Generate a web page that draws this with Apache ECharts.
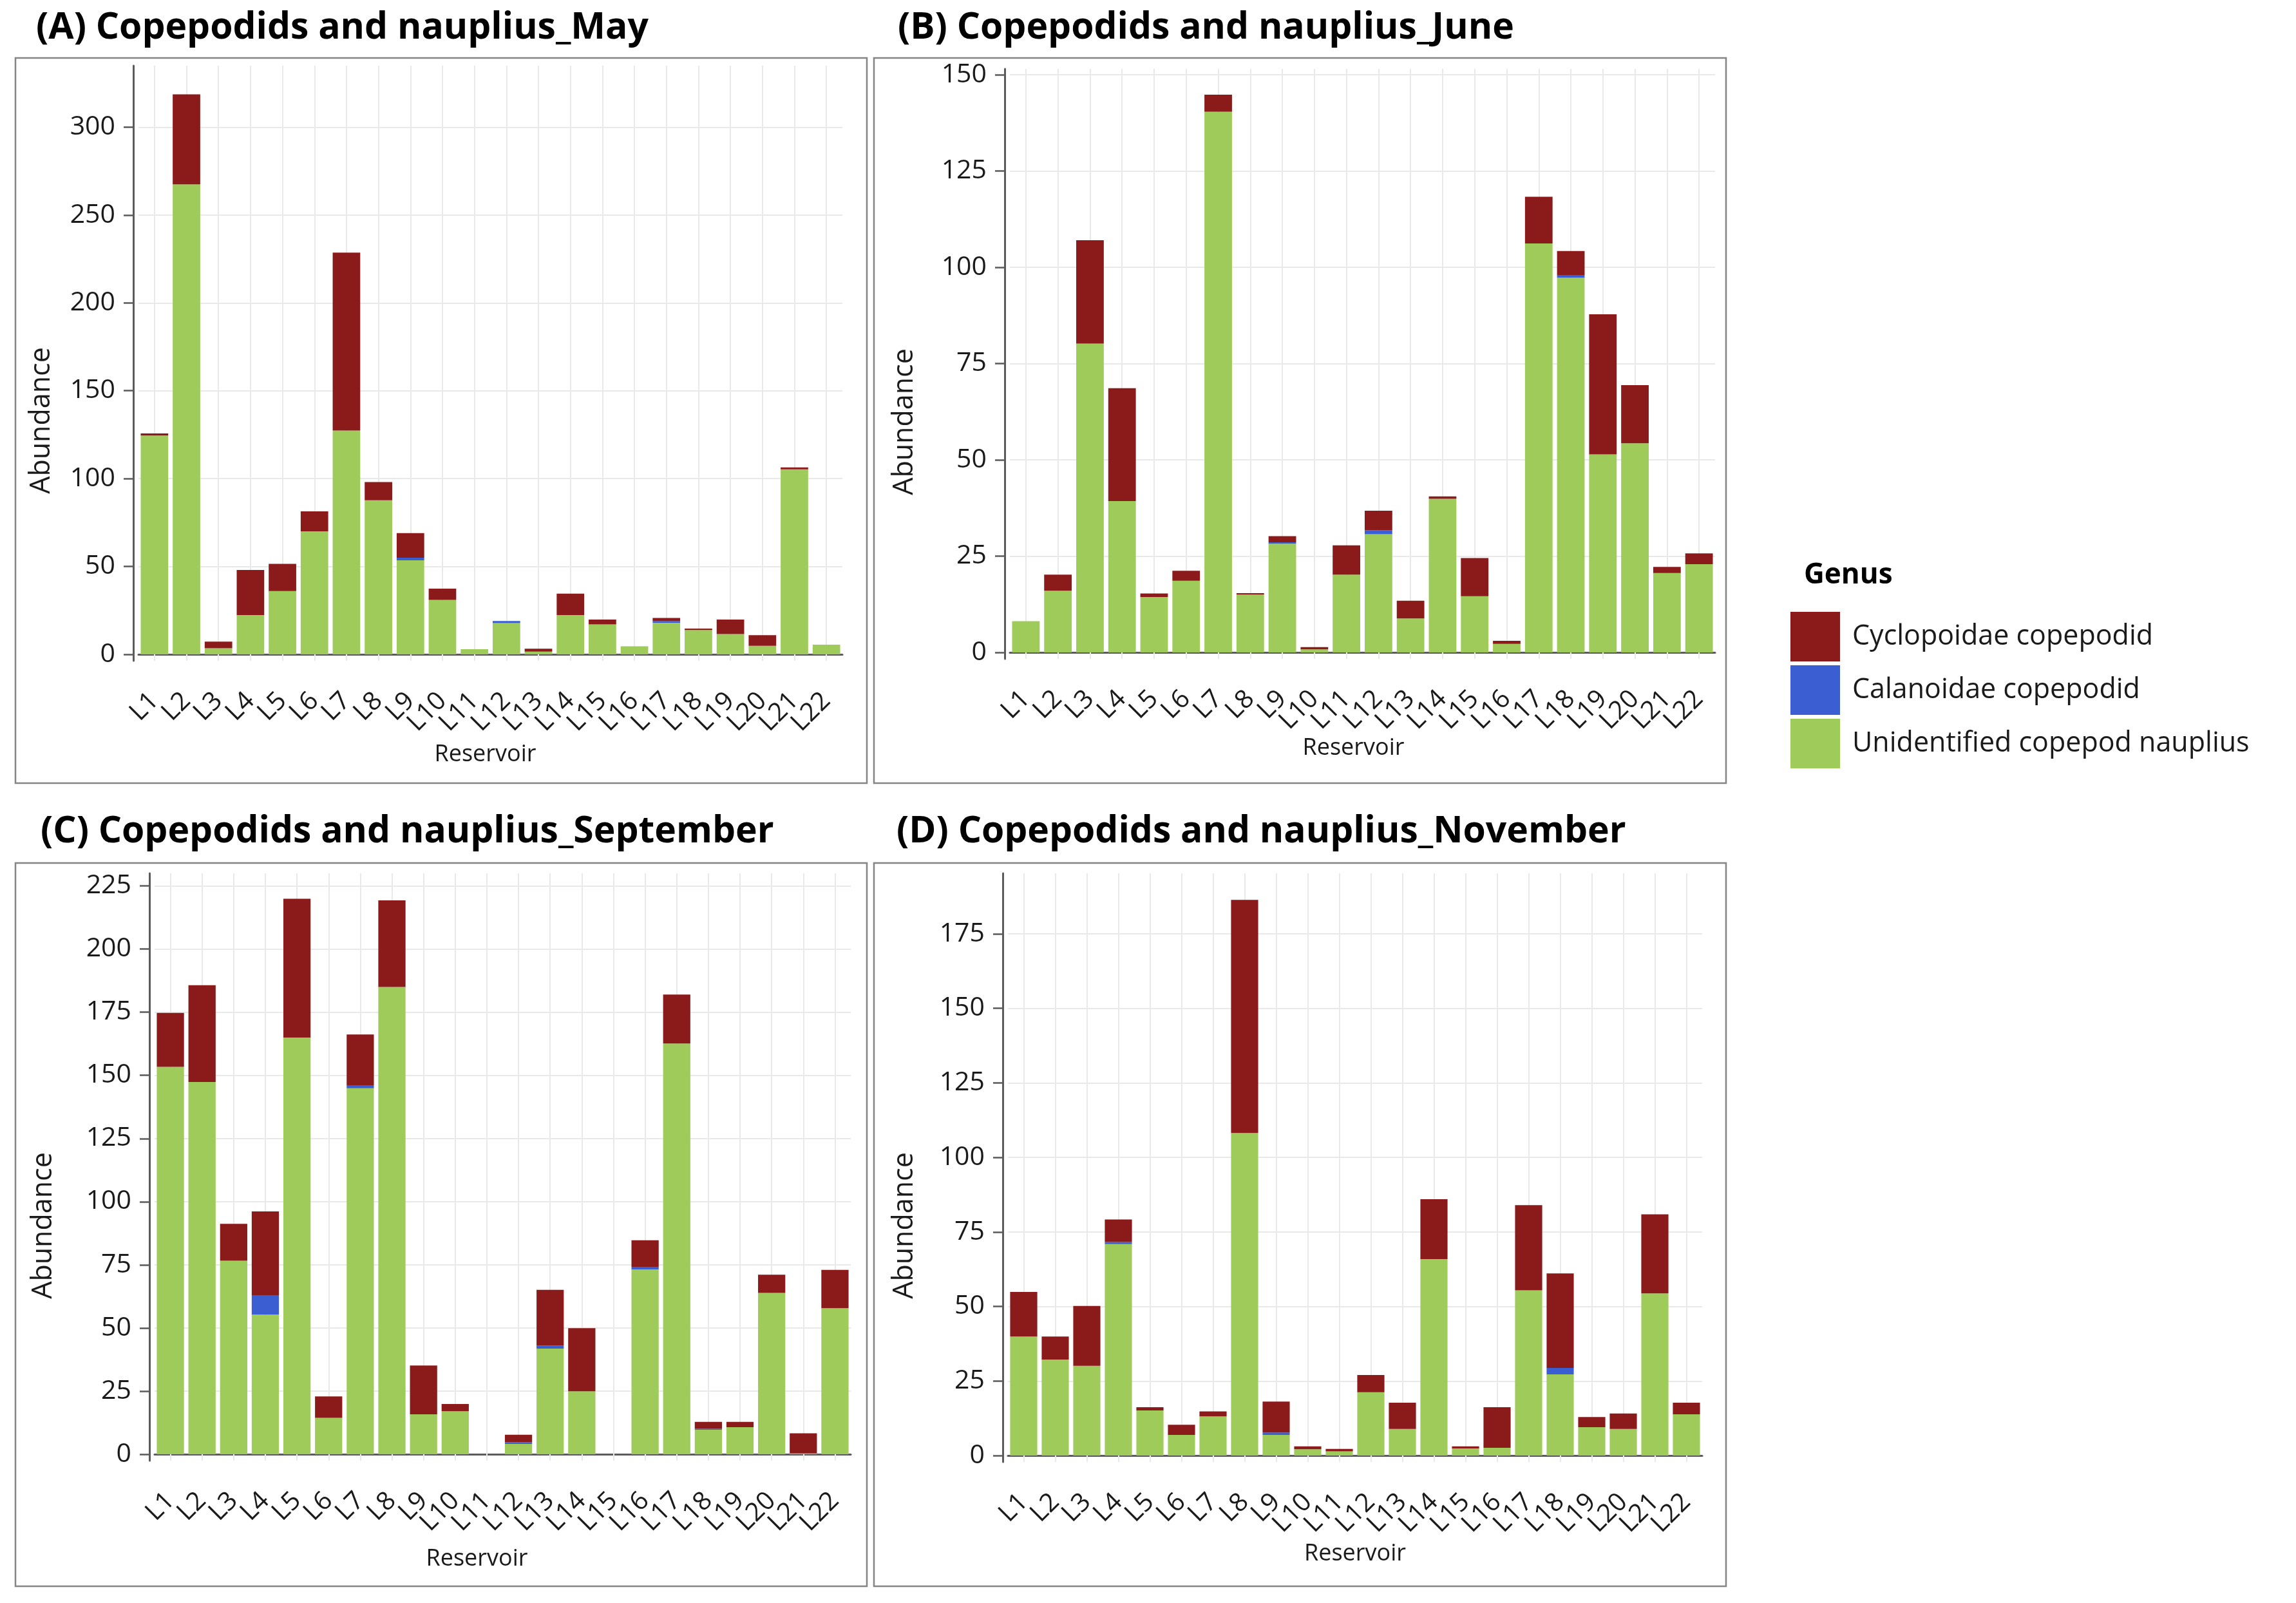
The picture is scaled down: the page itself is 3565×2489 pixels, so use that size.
<!DOCTYPE html>
<html>
<head>
<meta charset="utf-8">
<title>Copepodids and nauplius</title>
<script src="https://cdn.jsdelivr.net/npm/echarts@6/dist/echarts.min.js"></script>
<style>
  html, body { margin: 0; padding: 0; background: #fff; }
  #chart { width: 3565px; height: 2489px; }
</style>
</head>
<body>
<div id="chart"></div>
<script>
// reservoirs on the x axis
const reservoirs = ['L1', 'L2', 'L3', 'L4', 'L5', 'L6', 'L7', 'L8', 'L9', 'L10', 'L11',
  'L12', 'L13', 'L14', 'L15', 'L16', 'L17', 'L18', 'L19', 'L20', 'L21', 'L22'];

// legend order (top to bottom) and colours
const genusNames = ['Cyclopoidae copepodid', 'Calanoidae copepodid', 'Unidentified copepod nauplius'];
const genusColors = ['#8b1a1a', '#3b5fd3', '#9fcb5a'];

// (A) May
const mayNauplius = [124.5, 267.5, 3.5, 22.4, 36, 70, 127.4, 87.7, 53.5, 31, 2.9, 17.8, 1.6, 22.4, 17, 4.6, 18, 13.8, 11.5, 4.9, 105.3, 5.5];
const mayCalanoidae = [0, 0, 0, 0, 0, 0, 0, 0, 1.5, 0, 0, 1.2, 0, 0, 0, 0, 1, 0, 0, 0, 0, 0];
const mayCyclopoidae = [1.2, 51.2, 3.7, 25.6, 15.5, 11.4, 101.2, 10.3, 14, 6.4, 0, 0, 1.6, 12.1, 2.8, 0, 1.7, 0.9, 8.3, 6, 1.1, 0];

// (B) June
const juneNauplius = [8.1, 16, 80.2, 39.3, 14.4, 18.6, 140.4, 15, 28.2, 0.8, 20.2, 30.7, 8.8, 39.9, 14.6, 2.2, 106.2, 97.3, 51.4, 54.3, 20.6, 22.9];
const juneCalanoidae = [0, 0, 0, 0, 0, 0, 0, 0, 0.4, 0, 0, 1, 0, 0, 0, 0, 0, 0.7, 0, 0, 0, 0];
const juneCyclopoidae = [0, 4.2, 26.8, 29.3, 0.9, 2.6, 4.4, 0.4, 1.6, 0.6, 7.6, 5.1, 4.6, 0.6, 9.9, 0.8, 12.1, 6.2, 36.4, 15.1, 1.6, 2.8];

// (C) September
const sepNauplius = [153.4, 147.4, 76.6, 55.3, 165, 14.4, 144.9, 185, 15.8, 17, 0, 4.1, 41.8, 24.9, 0, 73.2, 162.6, 9.7, 10.7, 63.9, 0.3, 57.8];
const sepCalanoidae = [0, 0, 0, 7.7, 0, 0, 1.2, 0, 0, 0, 0, 0.6, 1.2, 0, 0, 1, 0, 0.4, 0, 0, 0, 0];
const sepCyclopoidae = [21.3, 38.3, 14.6, 33.1, 54.9, 8.5, 20.1, 34.3, 19.3, 2.9, 0, 3, 22.1, 25, 0, 10.5, 19.4, 2.7, 2.1, 7.2, 8, 15.2];

// (D) November
const novNauplius = [39.9, 32.2, 30.1, 70.9, 15.1, 6.9, 13.1, 108.2, 6.9, 2.1, 1.4, 21.2, 8.9, 65.9, 2.4, 2.6, 55.4, 27.2, 9.5, 8.9, 54.4, 13.8];
const novCalanoidae = [0, 0, 0, 0.7, 0, 0, 0, 0, 0.8, 0, 0, 0, 0, 0, 0, 0, 0, 2.2, 0, 0, 0, 0];
const novCyclopoidae = [15, 7.7, 20.1, 7.6, 1.1, 3.4, 1.7, 78.2, 10.4, 1, 0.8, 5.8, 8.8, 20.1, 0.7, 13.6, 28.6, 31.7, 3.4, 5.2, 26.5, 3.9];

// y tick labels
const yTicksMay = [0, 50, 100, 150, 200, 250, 300];
const yTicksJune = [0, 25, 50, 75, 100, 125, 150];
const yTicksSep = [0, 25, 50, 75, 100, 125, 150, 175, 200, 225];
const yTicksNov = [0, 25, 50, 75, 100, 125, 150, 175];

const FONT = '"Open Sans", "Noto Sans", sans-serif';
const AXIS_COLOR = '#5b5b5b';
const GRID_COLOR = '#e9e9e9';
const BELOW_ZERO = 10; // y axis runs a little past the x axis

// plot = [left, top, right, zeroY] in px, box = [x0, y0, x1, y1]
const panels = [
  { title: '(A) Copepodids and nauplius_May', naup: mayNauplius, cala: mayCalanoidae, cyclo: mayCyclopoidae,
    ticks: yTicksMay, yMax: 335, titleX: 56, titleY: 44, box: [24, 90, 1346, 1216],
    plot: [215, 102, 1308, 1016], nameGap: 128, nameShift: 8, yName: [65, 653] },
  { title: '(B) Copepodids and nauplius_June', naup: juneNauplius, cala: juneCalanoidae, cyclo: juneCyclopoidae,
    ticks: yTicksJune, yMax: 151.5, titleX: 1394, titleY: 44, box: [1357, 90, 2680, 1216],
    plot: [1568, 107, 2663, 1013], nameGap: 120, nameShift: 14, yName: [1405, 655] },
  { title: '(C) Copepodids and nauplius_September', naup: sepNauplius, cala: sepCalanoidae, cyclo: sepCyclopoidae,
    ticks: yTicksSep, yMax: 230, titleX: 63, titleY: 1292, box: [24, 1340, 1346, 2463],
    plot: [240, 1356, 1321, 2258], nameGap: 135, nameShift: 40, yName: [68, 1903] },
  { title: '(D) Copepodids and nauplius_November', naup: novNauplius, cala: novCalanoidae, cyclo: novCyclopoidae,
    ticks: yTicksNov, yMax: 195.3, titleX: 1392, titleY: 1292, box: [1357, 1340, 2680, 2463],
    plot: [1565, 1356, 2643, 2260], nameGap: 125, nameShift: 0, yName: [1405, 1903] }
];

const titles = [];
const grids = [];
const xAxes = [];
const yAxes = [];
const series = [];
const graphics = [];

panels.forEach(function (p, i) {
  const [left, top, right, zeroY] = p.plot;
  const pxPerUnit = (zeroY - top) / p.yMax;

  titles.push({
    text: p.title, left: p.titleX, top: p.titleY - 29, padding: 0,
    textStyle: { fontFamily: FONT, fontSize: 57, fontWeight: 'bold', color: '#000', lineHeight: 58 }
  });

  grids.push({ left: left, top: top, width: right - left, height: zeroY - top + BELOW_ZERO });

  xAxes.push({
    gridIndex: i,
    type: 'category',
    data: reservoirs,
    axisLine: { onZero: true, lineStyle: { color: AXIS_COLOR, width: 3 } },
    axisTick: { alignWithLabel: true, length: 39, lineStyle: { color: AXIS_COLOR, width: 2.5 } },
    axisLabel: { interval: 0, rotate: 45, margin: 56, fontFamily: FONT, fontSize: 40, color: '#1a1a1a' },
    splitLine: { show: false },
    name: 'Reservoir',
    nameLocation: 'middle',
    nameGap: p.nameGap,
    nameTextStyle: { fontFamily: FONT, fontSize: 36, color: '#1a1a1a', padding: [0, p.nameShift * 2, 0, 0] }
  });

  yAxes.push({
    gridIndex: i,
    type: 'value',
    min: -BELOW_ZERO / pxPerUnit,
    max: p.yMax,
    offset: 8,
    axisLine: { show: true, onZero: false, lineStyle: { color: AXIS_COLOR, width: 3 } },
    axisTick: { show: true, length: 15, customValues: p.ticks, lineStyle: { color: AXIS_COLOR, width: 2.5 } },
    axisLabel: { customValues: p.ticks, margin: 28, fontFamily: FONT, fontSize: 41, color: '#1a1a1a' },
    splitLine: { show: true, lineStyle: { color: GRID_COLOR, width: 2 } }
  });

  const stackName = 'panel' + i;
  const barStyle = { type: 'bar', stack: stackName, xAxisIndex: i, yAxisIndex: i, barCategoryGap: '14%' };
  series.push(Object.assign({}, barStyle, {
    name: genusNames[2], data: p.naup, itemStyle: { color: genusColors[2] },
    markLine: {
      silent: true, symbol: 'none', z: 1, animation: false,
      label: { show: false },
      lineStyle: { color: GRID_COLOR, width: 2, type: 'solid' },
      emphasis: { disabled: true },
      data: reservoirs.map(function (r) { return { xAxis: r }; })
    }
  }));
  series.push(Object.assign({}, barStyle, { name: genusNames[1], data: p.cala, itemStyle: { color: genusColors[1] } }));
  series.push(Object.assign({}, barStyle, { name: genusNames[0], data: p.cyclo, itemStyle: { color: genusColors[0] } }));

  // panel frame and y axis title
  graphics.push({
    type: 'rect', silent: true, z: -10,
    shape: { x: p.box[0], y: p.box[1], width: p.box[2] - p.box[0], height: p.box[3] - p.box[1] },
    style: { fill: 'none', stroke: '#858585', lineWidth: 2.5 }
  });
  graphics.push({
    type: 'text', silent: true, x: p.yName[0], y: p.yName[1], rotation: Math.PI / 2,
    style: {
      text: 'Abundance', fontFamily: FONT, fontSize: 43, fill: '#1a1a1a',
      align: 'center', verticalAlign: 'middle', textAlign: 'center', textVerticalAlign: 'middle'
    }
  });
});

// legend title
titles.push({
  text: 'Genus', left: 2801, top: 871, padding: 0,
  textStyle: { fontFamily: FONT, fontSize: 44, fontWeight: 'bold', color: '#000', lineHeight: 44 }
});

const chart = echarts.init(document.getElementById('chart'), null, { renderer: 'canvas' });

chart.setOption({
  backgroundColor: '#fff',
  animation: false,
  title: titles,
  legend: {
    orient: 'vertical',
    left: 2780,
    top: 950,
    padding: 0,
    icon: 'rect',
    itemWidth: 77,
    itemHeight: 77,
    itemGap: 6,
    selectedMode: false,
    data: genusNames,
    textStyle: { fontFamily: FONT, fontSize: 43, color: '#1a1a1a', padding: [0, 0, 0, 14] }
  },
  grid: grids,
  xAxis: xAxes,
  yAxis: yAxes,
  series: series,
  graphic: graphics
});
</script>
</body>
</html>
